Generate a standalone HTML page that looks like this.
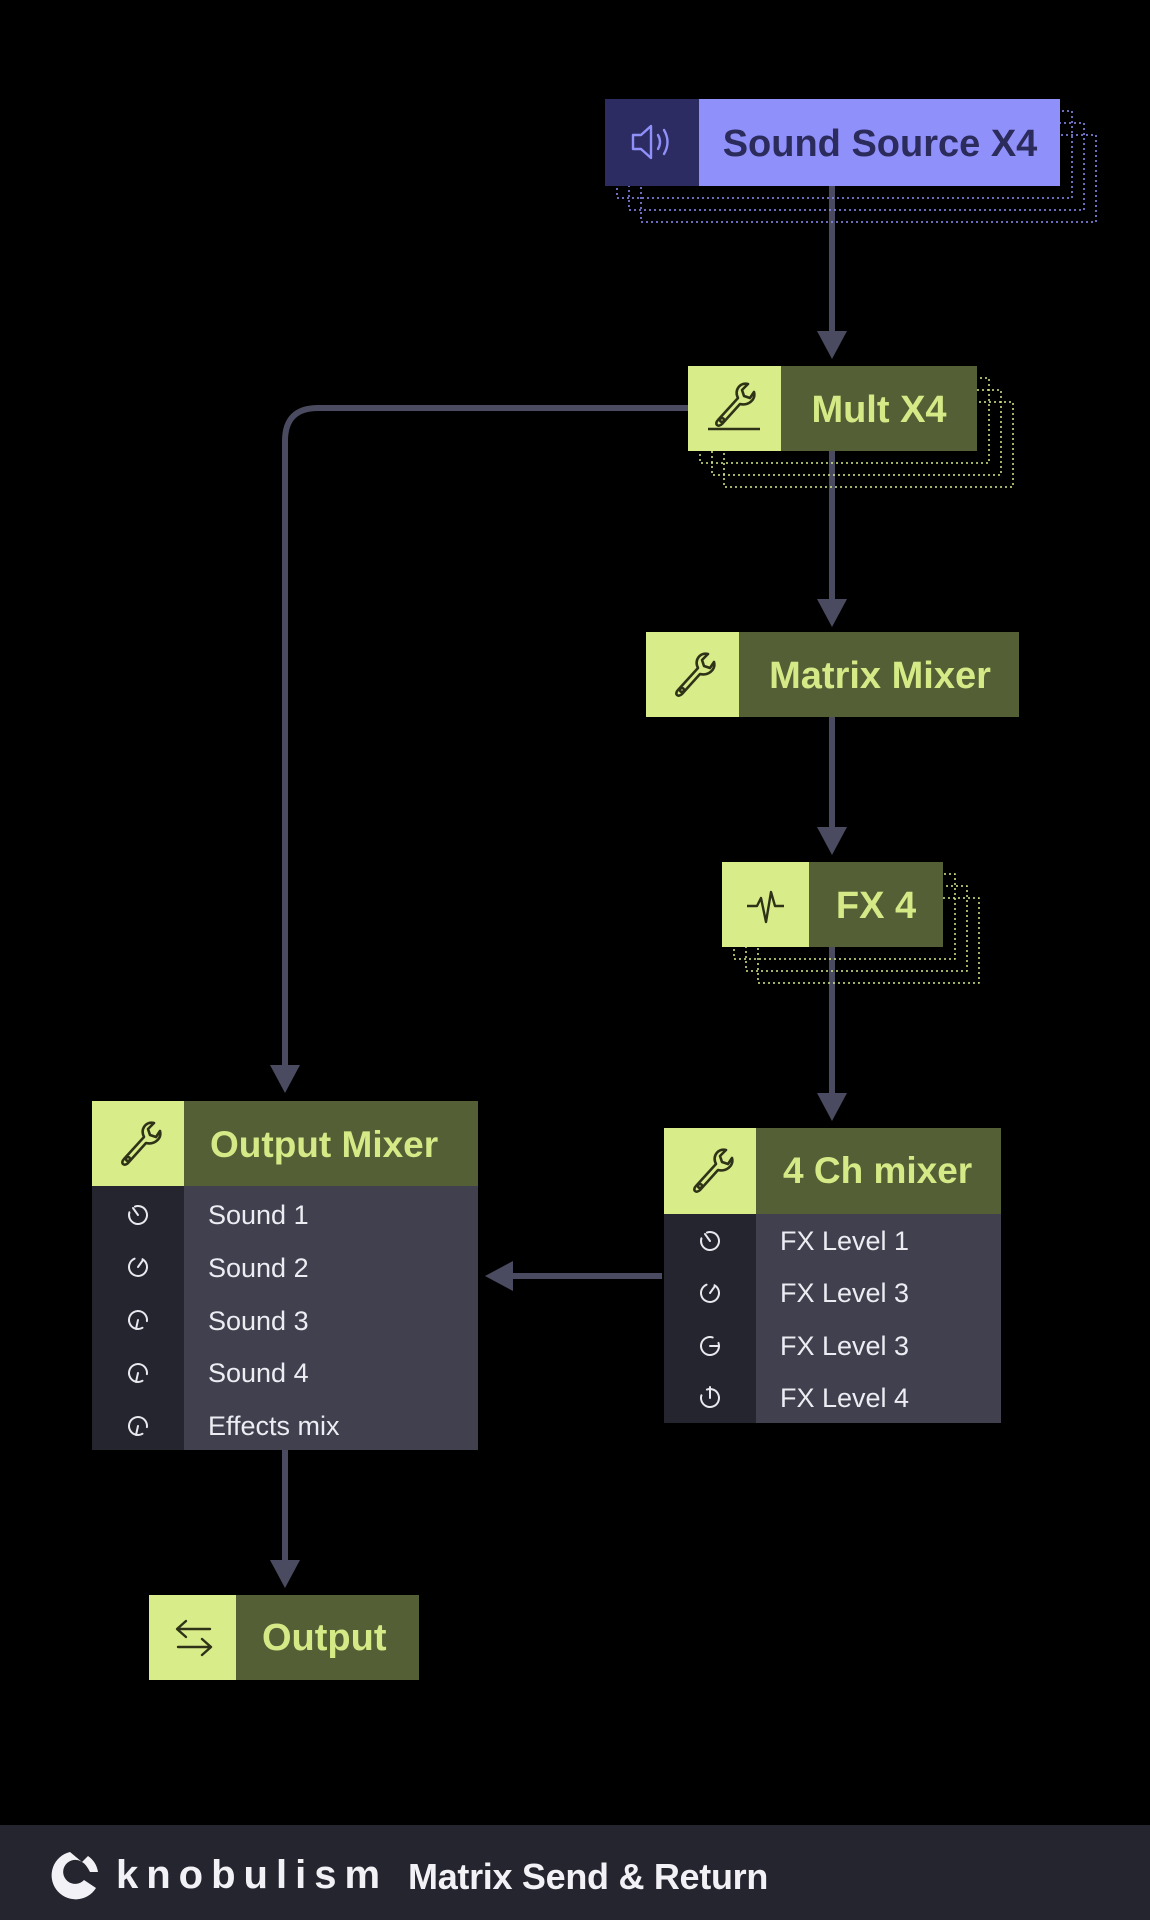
<!DOCTYPE html>
<html><head><meta charset="utf-8"><style>
html,body{margin:0;padding:0;background:#000;}
body{width:1150px;height:1920px;position:relative;overflow:hidden;font-family:"Liberation Sans",sans-serif;}
svg{position:absolute;left:0;top:0;}
</style></head><body>
<svg width="1150" height="1920" viewBox="0 0 1150 1920" xmlns="http://www.w3.org/2000/svg">
<defs>
<g id="wrench" fill="none" stroke="#2e3318" stroke-width="2.6" stroke-linejoin="round" stroke-linecap="round">
<path d="M-14 16 L6 -6 C2 -14 8 -22 16 -20 L10 -14 L12 -8 L18 -6 L22 -12 C24 -4 16 2 8 0 L-10 20 C-14 24 -18 20 -14 16 Z"/>
<circle cx="-10" cy="16" r="2"/>
</g>
</defs>

<!-- connectors -->
<g stroke="#4a4a60" stroke-width="6" fill="none">
<line x1="832" y1="186" x2="832" y2="334"/>
<line x1="832" y1="451" x2="832" y2="602"/>
<line x1="832" y1="717" x2="832" y2="830"/>
<line x1="832" y1="947" x2="832" y2="1096"/>
<path d="M688 408 L318 408 Q285 408 285 441 L285 1068"/>
<line x1="662" y1="1276" x2="510" y2="1276"/>
<line x1="285" y1="1450" x2="285" y2="1563"/>
</g>
<g fill="#4a4a60">
<polygon points="817,331 847,331 832,359"/>
<polygon points="817,599 847,599 832,627"/>
<polygon points="817,827 847,827 832,855"/>
<polygon points="817,1093 847,1093 832,1121"/>
<polygon points="270,1065 300,1065 285,1093"/>
<polygon points="513,1261 513,1291 485,1276"/>
<polygon points="270,1560 300,1560 285,1588"/>
</g>

<!-- Sound Source shadows -->
<g fill="none" stroke="#9090fa" stroke-width="1.5" stroke-dasharray="2 3">
<rect x="641" y="135" width="455" height="87"/>
<rect x="629" y="123" width="455" height="87"/>
<rect x="617" y="111" width="455" height="87"/>
</g>
<rect x="605" y="99" width="455" height="87" fill="#9090fa"/>
<rect x="605" y="99" width="94" height="87" fill="#2c2c62"/>
<g fill="none" stroke="#9090fa" stroke-width="2.4" stroke-linejoin="round" stroke-linecap="round">
<path d="M633 135 L641 135 L651 126 L651 158 L641 149 L633 149 Z"/>
<path d="M658 135 Q662 142 658 149"/>
<path d="M664 130 Q671 142 664 154"/>
</g>
<text x="880" y="156" text-anchor="middle" font-size="38" font-weight="bold" fill="#2b2b5c">Sound Source X4</text>

<!-- Mult shadows -->
<g fill="none" stroke="#d5ea86" stroke-width="1.5" stroke-dasharray="2 3">
<rect x="724" y="402" width="289" height="85"/>
<rect x="712" y="390" width="289" height="85"/>
<rect x="700" y="378" width="289" height="85"/>
</g>
<rect x="688" y="366" width="289" height="85" fill="#545f35"/>
<rect x="688" y="366" width="93" height="85" fill="#d8ec8a"/>
<use href="#wrench" x="732" y="404"/>
<line x1="708" y1="429" x2="760" y2="429" stroke="#2e3318" stroke-width="2.6"/>
<text x="879" y="422" text-anchor="middle" font-size="38" font-weight="bold" fill="#d5ea86">Mult X4</text>

<!-- Matrix Mixer -->
<rect x="646" y="632" width="373" height="85" fill="#545f35"/>
<rect x="646" y="632" width="93" height="85" fill="#d8ec8a"/>
<use href="#wrench" x="692" y="674"/>
<text x="880" y="688" text-anchor="middle" font-size="38" font-weight="bold" fill="#d5ea86">Matrix Mixer</text>

<!-- FX 4 -->
<g fill="none" stroke="#d5ea86" stroke-width="1.5" stroke-dasharray="2 3">
<rect x="758" y="898" width="221" height="85"/>
<rect x="746" y="886" width="221" height="85"/>
<rect x="734" y="874" width="221" height="85"/>
</g>
<rect x="722" y="862" width="221" height="85" fill="#545f35"/>
<rect x="722" y="862" width="87" height="85" fill="#d8ec8a"/>
<polyline points="747,906 757,906 761,898 766,922 771,892 775,906 784,906" fill="none" stroke="#2e3318" stroke-width="2.4" stroke-linejoin="round"/>
<text x="876" y="918" text-anchor="middle" font-size="38" font-weight="bold" fill="#d5ea86">FX 4</text>

<!-- Output Mixer -->
<rect x="92" y="1101" width="386" height="349" fill="#40404f"/>
<rect x="92" y="1186" width="92" height="264" fill="#25252f"/>
<rect x="92" y="1101" width="386" height="85" fill="#545f35"/>
<rect x="92" y="1101" width="92" height="85" fill="#d8ec8a"/>
<use href="#wrench" x="138" y="1143"/>
<text x="210" y="1157" font-size="37" font-weight="bold" fill="#d5ea86">Output Mixer</text>
<g font-size="27" fill="#ececf2">
<text x="208" y="1224">Sound 1</text>
<text x="208" y="1277">Sound 2</text>
<text x="208" y="1330">Sound 3</text>
<text x="208" y="1382">Sound 4</text>
<text x="208" y="1435">Effects mix</text>
</g>
<g fill="none" stroke="#e8e8ee" stroke-width="2" stroke-linecap="round">
<circle cx="138" cy="1215" r="9" stroke-dasharray="48 9" transform="rotate(-110 138 1215)"/><line x1="138" y1="1215" x2="133" y2="1208"/>
<circle cx="138" cy="1267" r="9" stroke-dasharray="48 9" transform="rotate(-60 138 1267)"/><line x1="138" y1="1267" x2="143" y2="1260"/>
<circle cx="138" cy="1320" r="9" stroke-dasharray="48 9" transform="rotate(60 138 1320)"/><line x1="138" y1="1320" x2="136" y2="1329"/>
<circle cx="138" cy="1373" r="9" stroke-dasharray="48 9" transform="rotate(60 138 1373)"/><line x1="138" y1="1373" x2="136" y2="1382"/>
<circle cx="138" cy="1426" r="9" stroke-dasharray="48 9" transform="rotate(60 138 1426)"/><line x1="138" y1="1426" x2="136" y2="1435"/>
</g>

<!-- 4 Ch mixer -->
<rect x="664" y="1128" width="337" height="295" fill="#40404f"/>
<rect x="664" y="1214" width="92" height="209" fill="#25252f"/>
<rect x="664" y="1128" width="337" height="86" fill="#545f35"/>
<rect x="664" y="1128" width="92" height="86" fill="#d8ec8a"/>
<use href="#wrench" x="710" y="1170"/>
<text x="783" y="1183" font-size="37" font-weight="bold" fill="#d5ea86">4 Ch mixer</text>
<g font-size="27" fill="#ececf2">
<text x="780" y="1250">FX Level 1</text>
<text x="780" y="1302">FX Level 3</text>
<text x="780" y="1355">FX Level 3</text>
<text x="780" y="1407">FX Level 4</text>
</g>
<g fill="none" stroke="#e8e8ee" stroke-width="2" stroke-linecap="round">
<circle cx="710" cy="1241" r="9" stroke-dasharray="48 9" transform="rotate(-110 710 1241)"/><line x1="710" y1="1241" x2="705" y2="1234"/>
<circle cx="710" cy="1293" r="9" stroke-dasharray="48 9" transform="rotate(-60 710 1293)"/><line x1="710" y1="1293" x2="715" y2="1286"/>
<circle cx="710" cy="1346" r="9" stroke-dasharray="48 9" transform="rotate(-20 710 1346)"/><line x1="710" y1="1346" x2="719" y2="1346"/>
<circle cx="710" cy="1398" r="9" stroke-dasharray="48 9" transform="rotate(-110 710 1398)"/><line x1="710" y1="1398" x2="710" y2="1387"/>
</g>

<!-- Output -->
<rect x="149" y="1595" width="270" height="85" fill="#545f35"/>
<rect x="149" y="1595" width="87" height="85" fill="#d8ec8a"/>
<g fill="none" stroke="#2e3318" stroke-width="2.4" stroke-linecap="round" stroke-linejoin="round">
<path d="M178 1629 L210 1629 M186 1621 L177 1629 L186 1637"/>
<path d="M178 1647 L210 1647 M202 1639 L211 1647 L202 1655"/>
</g>
<text x="262" y="1650" font-size="38" font-weight="bold" fill="#d5ea86">Output</text>

<!-- footer -->
<rect x="0" y="1825" width="1150" height="95" fill="#25252f"/>
<g fill="#f2f2f6">
<path d="M70 1852 A24 24 0 1 0 96 1888 L84 1880 A12 12 0 1 1 82 1862 Z"/>
<path d="M88 1856 A24 24 0 0 1 98 1872 L90 1872 Q86 1864 82 1862 Z"/>
</g>
<text x="116" y="1888" font-size="40" font-weight="bold" fill="#f2f2f6" letter-spacing="8">knobulism</text>
<text x="408" y="1889" font-size="36" font-weight="bold" fill="#f2f2f6" letter-spacing="-0.3">Matrix Send &amp; Return</text>
</svg>
</body></html>
